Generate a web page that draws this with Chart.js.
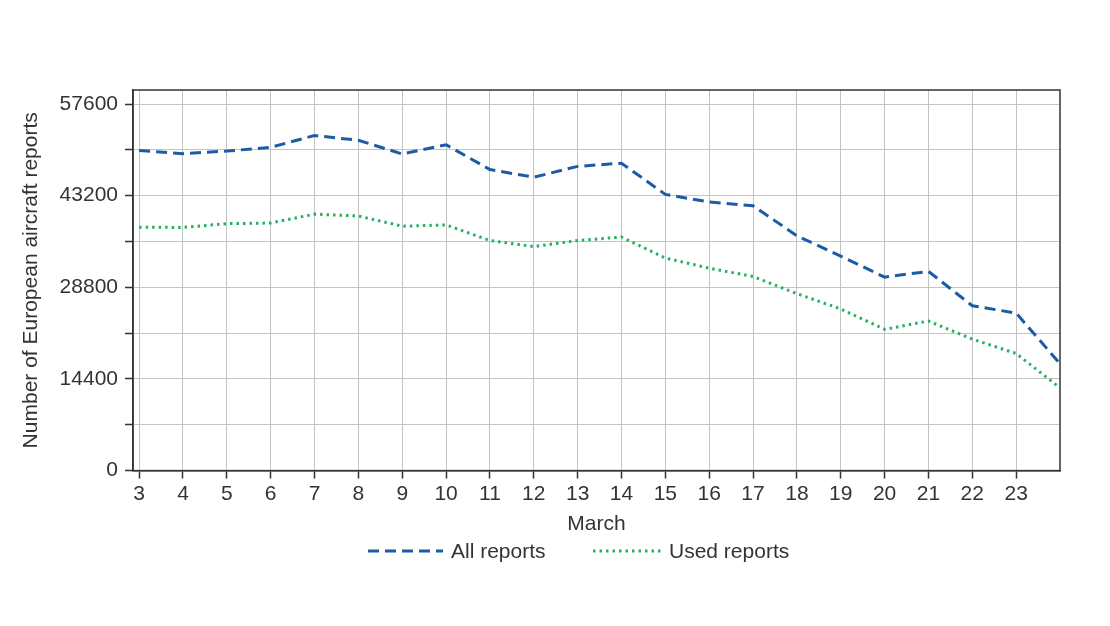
<!DOCTYPE html>
<html>
<head>
<meta charset="utf-8">
<script src="https://cdn.jsdelivr.net/npm/chart.js@4.4.1/dist/chart.umd.min.js"></script>
<style>
  html, body { margin: 0; padding: 0; background: #fff; }
  #wrap { width: 1110px; height: 626px; }
</style>
</head>
<body>
<div id="wrap"><canvas id="reportsChart" width="1110" height="626"></canvas></div>
<script>
// days of March, last point sits on the right border (24th, unlabelled)
const days = [3, 4, 5, 6, 7, 8, 9, 10, 11, 12, 13, 14, 15, 16, 17, 18, 19, 20, 21, 22, 23, 24];
const allReports = [50300, 49800, 50200, 50800, 52650, 51900, 49750, 51200, 47300, 46100, 47800, 48300,
  43400, 42200, 41600, 36900, 33700, 30400, 31300, 25900, 24750, 16800];
const usedReports = [38250, 38200, 38800, 38900, 40300, 40000, 38400, 38600, 36150, 35200, 36150, 36700,
  33400, 31800, 30500, 27800, 25400, 22200, 23500, 20650, 18400, 13000];
const xTicks = [3, 4, 5, 6, 7, 8, 9, 10, 11, 12, 13, 14, 15, 16, 17, 18, 19, 20, 21, 22, 23];
const yTicks = [0, 7200, 14400, 21600, 28800, 36000, 43200, 50400, 57600];
const yLabelStep = 14400;

const textColor = '#333333';
const font = { family: '"Liberation Sans", Arial, Helvetica, sans-serif', size: 21 };

Chart.defaults.font.family = font.family;
Chart.defaults.font.size = font.size;
Chart.defaults.color = textColor;

// frame around the plot area (top + right edges)
const frame = {
  id: 'frame',
  afterDraw(chart) {
    const { ctx, chartArea: a } = chart;
    ctx.save();
    ctx.strokeStyle = '#333333';
    ctx.lineWidth = 1.5;
    ctx.strokeRect(a.left, a.top, a.right - a.left, a.bottom - a.top);
    ctx.restore();
  }
};

// legend under the axis title, line samples keep the dataset dash
const lineLegend = {
  id: 'lineLegend',
  afterDraw(chart, args, opts) {
    const { ctx } = chart;
    ctx.save();
    ctx.font = font.size + 'px ' + font.family;
    ctx.textBaseline = 'middle';
    chart.data.datasets.forEach((ds, i) => {
      const item = opts.items[i];
      ctx.strokeStyle = ds.borderColor;
      ctx.lineWidth = ds.borderWidth;
      ctx.setLineDash(ds.borderDash || []);
      ctx.beginPath();
      ctx.moveTo(item.x, opts.y);
      ctx.lineTo(item.x + item.w, opts.y);
      ctx.stroke();
      ctx.fillStyle = textColor;
      ctx.fillText(ds.label, item.x + item.w + 8, opts.y + 1);
    });
    ctx.restore();
  }
};

const ctx = document.getElementById('reportsChart').getContext('2d');
const reportsChart = new Chart(ctx, {
  type: 'line',
  data: {
    datasets: [{
      label: 'All reports',
      data: days.map((d, i) => ({ x: d, y: allReports[i] })),
      borderColor: '#1c5ba6',
      backgroundColor: '#1c5ba6',
      borderWidth: 3,
      borderDash: [11, 6],
      pointRadius: 0,
      tension: 0,
      fill: false
    }, {
      label: 'Used reports',
      data: days.map((d, i) => ({ x: d, y: usedReports[i] })),
      borderColor: '#25b064',
      backgroundColor: '#25b064',
      borderWidth: 3,
      borderDash: [2.5, 4],
      pointRadius: 0,
      tension: 0,
      fill: false
    }]
  },
  options: {
    responsive: false,
    animation: false,
    layout: { padding: { top: 90, right: 50, left: 0, bottom: 87 } },
    plugins: {
      legend: { display: false },
      tooltip: { enabled: false },
      lineLegend: { y: 551, items: [{ x: 368, w: 75 }, { x: 593, w: 68 }] }
    },
    scales: {
      x: {
        type: 'linear',
        min: 2.86,
        max: 24,
        afterBuildTicks: scale => { scale.ticks = xTicks.map(v => ({ value: v })); },
        ticks: { color: textColor, font: font, padding: 3, maxRotation: 0, autoSkip: false,
                 callback: v => v },
        grid: { color: '#c4c4c4', lineWidth: 1, tickColor: '#333333', tickLength: 8, tickWidth: 1.5 },
        border: { color: '#333333', width: 1.5 },
        title: { display: true, text: 'March', color: textColor, font: font, padding: { top: 2, bottom: 2 } }
      },
      y: {
        min: 0,
        max: 59800,
        afterBuildTicks: scale => { scale.ticks = yTicks.map(v => ({ value: v })); },
        afterFit: scale => { scale.width = 133; },
        ticks: { color: textColor, font: font, padding: 7,
                 callback: v => (v % yLabelStep === 0 ? v : '') },
        grid: { color: '#c4c4c4', lineWidth: 1, tickColor: '#333333', tickLength: 8, tickWidth: 1.5 },
        border: { color: '#333333', width: 1.5 },
        title: { display: true, text: 'Number of European aircraft reports', color: textColor, font: font,
                 padding: { top: 19, bottom: 4 } }
      }
    }
  },
  plugins: [frame, lineLegend]
});
</script>
</body>
</html>
